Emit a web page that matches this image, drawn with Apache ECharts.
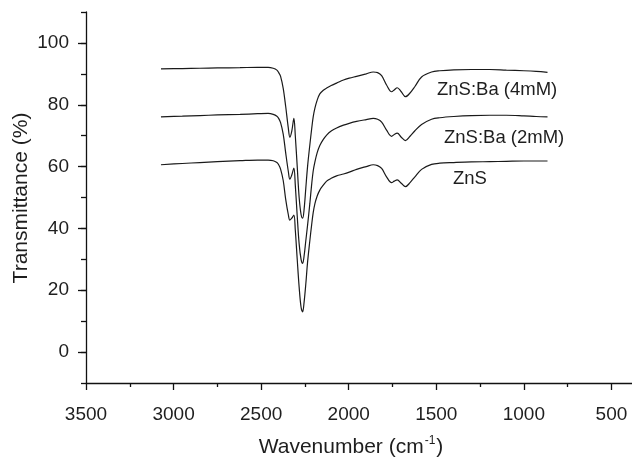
<!DOCTYPE html>
<html>
<head>
<meta charset="utf-8">
<script src="https://cdn.jsdelivr.net/npm/echarts@6/dist/echarts.min.js"></script>
<style>
html,body{margin:0;padding:0;background:#fff;}
#chart{width:632px;height:458px;}
</style>
</head>
<body>
<div id="chart"></div>
<script>
var wavenumbers = [3072, 2950, 2850, 2750, 2620, 2520, 2460, 2431, 2410, 2400, 2389, 2374, 2360, 2345, 2336, 2325, 2313, 2305, 2294, 2283, 2272, 2263, 2255, 2245, 2235, 2222, 2212, 2203, 2193, 2180, 2165, 2145, 2126, 2100, 2069, 2030, 1997, 1955, 1900, 1860, 1835, 1812, 1784, 1755, 1740, 1723, 1700, 1676, 1650, 1622, 1584, 1527, 1480, 1400, 1300, 1194, 1100, 1000, 930, 865];

var znsBa4 = [91.6, 91.7, 91.8, 91.9, 92.0, 92.1, 92.1, 91.8, 91.2, 90.4, 89.2, 85.3, 79.5, 72.5, 69.5, 71.5, 75.6, 70, 60, 50, 44.5, 43.3, 46, 53, 60, 67, 72, 76, 78.9, 81.5, 83.5, 84.7, 85.4, 86.2, 87, 88, 88.6, 89.2, 90, 90.6, 90.4, 89.4, 86.4, 84.2, 84.8, 85.5, 84.2, 82.6, 83.8, 85.9, 89, 90.6, 91.0, 91.3, 91.4, 91.4, 91.2, 91, 90.8, 90.5];

var znsBa2 = [76.1, 76.3, 76.5, 76.7, 76.9, 77.1, 77.2, 76.9, 76.3, 75.6, 74.2, 70.5, 64.5, 58.5, 55.9, 57.3, 59.5, 54, 44, 35, 30, 28.7, 31, 36, 41, 48, 54, 58.5, 61.5, 64.5, 66.8, 68.8, 70.2, 71.5, 72.5, 73.4, 74, 74.6, 75.2, 75.6, 75.3, 74.4, 71.8, 69.8, 70.4, 70.8, 69.5, 68.4, 69.8, 71.6, 73.6, 75.3, 75.8, 76.2, 76.5, 76.6, 76.6, 76.4, 76.2, 76.1];

var zns = [60.6, 61.0, 61.3, 61.6, 61.9, 62.1, 62.1, 61.9, 61.3, 60.6, 59.2, 55.5, 49.5, 44.5, 42.7, 43.3, 44.3, 39.5, 30, 21, 14.5, 13, 16, 22, 29, 36, 41, 45, 48, 50.5, 52.4, 54, 55.3, 56.2, 57, 57.6, 58.2, 59.1, 60, 60.6, 60.3, 59.4, 56.7, 54.8, 55.3, 55.7, 54.6, 53.5, 54.8, 56.7, 59.1, 60.7, 61.1, 61.3, 61.5, 61.6, 61.7, 61.8, 61.8, 61.8];

var seriesNames = ['ZnS:Ba (4mM)', 'ZnS:Ba (2mM)', 'ZnS'];
var xTitle = 'Wavenumber (cm';
var xTitleSup = '-1';
var yTitle = 'Transmittance (%)';

function pairs(ys) {
  return wavenumbers.map(function (w, i) { return [w, ys[i]]; });
}

var FONT = '"Liberation Sans", Arial, Helvetica, sans-serif';
var TXT = '#1e1e1e';
var AX = '#111';

var chart = echarts.init(document.getElementById('chart'), null, {renderer: 'canvas'});

function mkSeries(name, ys) {
  return {
    name: name,
    type: 'line',
    xAxisIndex: 0,
    yAxisIndex: 0,
    data: pairs(ys),
    showSymbol: false,
    symbol: 'none',
    smooth: 0.35,
    lineStyle: {color: '#1a1a1a', width: 1.2},
    animation: false,
    silent: true
  };
}

chart.setOption({
  animation: false,
  backgroundColor: '#fff',
  grid: [
    {left: 86, right: -67, top: 12, bottom: 75, containLabel: false, outerBoundsMode: 'none'},
    {left: 86, right: -67, top: 43, bottom: 106, containLabel: false, outerBoundsMode: 'none'}
  ],
  xAxis: [
    {
      type: 'value', gridIndex: 0, inverse: true,
      min: 0, max: 3500, interval: 500,
      axisLine: {show: true, onZero: false, lineStyle: {color: AX, width: 1.3}},
      axisTick: {show: true, length: 7, lineStyle: {color: AX, width: 1.3}},
      minorTick: {show: true, splitNumber: 2, length: 4, lineStyle: {color: AX, width: 1.3}},
      splitLine: {show: false},
      axisLabel: {
        show: true, margin: 22, color: TXT, fontSize: 19, fontFamily: FONT,
        formatter: function (v) { return v === 0 ? '' : String(v); }
      }
    },
    {
      type: 'value', gridIndex: 1, min: 0, max: 3500, show: false
    }
  ],
  yAxis: [
    {
      type: 'value', gridIndex: 0,
      min: -10, max: 110, interval: 10,
      axisLine: {show: true, onZero: false, lineStyle: {color: AX, width: 1.3}},
      axisTick: {show: true, length: 5, lineStyle: {color: AX, width: 1.3}},
      splitLine: {show: false},
      axisLabel: {show: false}
    },
    {
      type: 'value', gridIndex: 1,
      min: 0, max: 100, interval: 20,
      axisLine: {show: false, onZero: false},
      axisTick: {show: true, length: 8, lineStyle: {color: AX, width: 1.3}},
      splitLine: {show: false},
      axisLabel: {show: true, margin: 17, color: TXT, fontSize: 19, fontFamily: FONT}
    }
  ],
  series: [
    mkSeries(seriesNames[0], znsBa4),
    mkSeries(seriesNames[1], znsBa2),
    mkSeries(seriesNames[2], zns)
  ],
  graphic: [
    {type: 'text', x: 437, y: 90, silent: true,
      style: {text: seriesNames[0], font: '18.5px ' + FONT, fill: TXT, textAlign: 'left', textVerticalAlign: 'middle'}},
    {type: 'text', x: 444, y: 138, silent: true,
      style: {text: seriesNames[1], font: '18.5px ' + FONT, fill: TXT, textAlign: 'left', textVerticalAlign: 'middle'}},
    {type: 'text', x: 453, y: 179, silent: true,
      style: {text: seriesNames[2], font: '18.5px ' + FONT, fill: TXT, textAlign: 'left', textVerticalAlign: 'middle'}},
    {type: 'text', x: 21, y: 198, rotation: Math.PI / 2, silent: true,
      style: {text: yTitle, font: '21px ' + FONT, fill: TXT, textAlign: 'center', textVerticalAlign: 'middle'}},
    {type: 'text', x: 351, y: 447, silent: true,
      style: {
        text: '{a|' + xTitle + '}{s|' + xTitleSup + '}{a|)}',
        fill: TXT, textAlign: 'center', textVerticalAlign: 'middle',
        rich: {
          a: {fontSize: 21, fontFamily: FONT, color: TXT, lineHeight: 24},
          s: {fontSize: 12, fontFamily: FONT, color: TXT, verticalAlign: 'top', lineHeight: 24, padding: [0, 1, 0, 1]}
        }
      }}
  ]
});
</script>
</body>
</html>
